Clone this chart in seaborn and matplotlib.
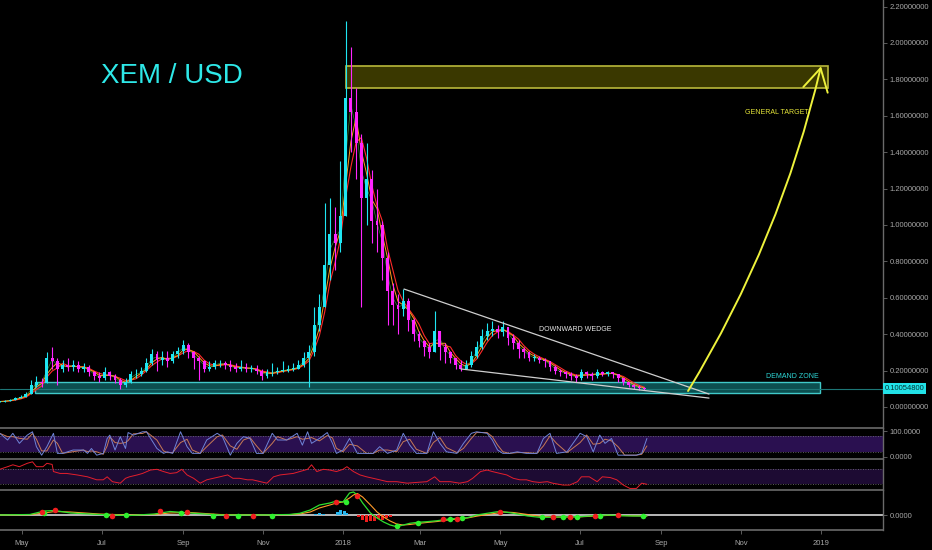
import pandas as pd
import seaborn as sns
import matplotlib.pyplot as plt
from matplotlib.patches import Rectangle, FancyArrowPatch

# ---- price data (4-day candles, XEM/USD) ----
start_date = '2017-04-14'
closes = [0.03, 0.033, 0.04, 0.05, 0.055, 0.07, 0.12, 0.14, 0.13, 0.27,
          0.25, 0.21, 0.23, 0.22, 0.23, 0.21, 0.22, 0.19, 0.17, 0.16,
          0.19, 0.17, 0.15, 0.12, 0.14, 0.18, 0.18, 0.20, 0.24, 0.29,
          0.26, 0.27, 0.25, 0.29, 0.31, 0.34, 0.30, 0.27, 0.25, 0.21,
          0.22, 0.24, 0.24, 0.23, 0.22, 0.21, 0.22, 0.21, 0.21, 0.20,
          0.17, 0.19, 0.19, 0.20, 0.20, 0.21, 0.21, 0.23, 0.27, 0.30,
          0.45, 0.55, 0.78, 0.95, 0.90, 1.05, 1.70, 1.62, 1.45, 1.15,
          1.25, 1.02, 1.00, 0.82, 0.64, 0.56, 0.54, 0.58, 0.48, 0.40,
          0.36, 0.33, 0.30, 0.42, 0.33, 0.30, 0.27, 0.23, 0.21, 0.23,
          0.28, 0.33, 0.39, 0.42, 0.43, 0.41, 0.44, 0.38, 0.35, 0.32,
          0.30, 0.27, 0.27, 0.26, 0.25, 0.22, 0.20, 0.19, 0.18, 0.17,
          0.16, 0.19, 0.18, 0.17, 0.19, 0.18, 0.19, 0.18, 0.16, 0.14,
          0.12, 0.11, 0.105, 0.10]
highs = [0.035, 0.038, 0.045, 0.055, 0.065, 0.08, 0.15, 0.17, 0.16, 0.30,
         0.33, 0.27, 0.26, 0.27, 0.26, 0.25, 0.24, 0.23, 0.20, 0.19,
         0.22, 0.20, 0.18, 0.16, 0.16, 0.20, 0.21, 0.22, 0.27, 0.32,
         0.31, 0.31, 0.31, 0.31, 0.33, 0.37, 0.35, 0.31, 0.28, 0.26,
         0.25, 0.26, 0.26, 0.25, 0.26, 0.24, 0.26, 0.24, 0.23, 0.23,
         0.21, 0.21, 0.24, 0.22, 0.25, 0.23, 0.24, 0.26, 0.30, 0.34,
         0.55, 0.62, 1.12, 1.15, 1.10, 1.35, 2.12, 1.98, 1.75, 1.50,
         1.45, 1.30, 1.20, 1.02, 0.85, 0.68, 0.62, 0.65, 0.60, 0.49,
         0.42, 0.37, 0.35, 0.53, 0.42, 0.35, 0.31, 0.27, 0.26, 0.26,
         0.31, 0.36, 0.43, 0.46, 0.47, 0.45, 0.47, 0.44, 0.40, 0.37,
         0.33, 0.31, 0.29, 0.28, 0.27, 0.25, 0.23, 0.21, 0.20, 0.19,
         0.18, 0.21, 0.20, 0.19, 0.21, 0.20, 0.20, 0.19, 0.18, 0.16,
         0.14, 0.125, 0.12, 0.11]
lows = [0.025, 0.028, 0.032, 0.04, 0.048, 0.055, 0.07, 0.11, 0.11, 0.13,
        0.21, 0.12, 0.19, 0.20, 0.20, 0.19, 0.19, 0.17, 0.15, 0.14,
        0.15, 0.15, 0.13, 0.10, 0.11, 0.13, 0.16, 0.17, 0.19, 0.23,
        0.20, 0.23, 0.22, 0.24, 0.27, 0.29, 0.27, 0.21, 0.15, 0.19,
        0.20, 0.21, 0.22, 0.21, 0.20, 0.19, 0.20, 0.19, 0.19, 0.18,
        0.15, 0.16, 0.17, 0.18, 0.19, 0.19, 0.20, 0.21, 0.22, 0.11,
        0.28, 0.42, 0.55, 0.70, 0.75, 0.85, 1.05, 1.40, 1.25, 0.55,
        1.00, 0.90, 0.85, 0.70, 0.45, 0.45, 0.40, 0.50, 0.42, 0.36,
        0.33, 0.28, 0.27, 0.30, 0.26, 0.24, 0.24, 0.21, 0.20, 0.21,
        0.22, 0.27, 0.32, 0.37, 0.39, 0.38, 0.39, 0.34, 0.32, 0.27,
        0.27, 0.25, 0.25, 0.24, 0.22, 0.20, 0.18, 0.17, 0.16, 0.15,
        0.14, 0.15, 0.16, 0.15, 0.16, 0.17, 0.17, 0.16, 0.14, 0.12,
        0.11, 0.10, 0.095, 0.095]
last_price = 0.100548

# ---- stochastic oscillator (days from 2018-01-01) ----
stoch_days = [-262, -256, -252, -247, -241, -237, -234, -230, -226, -221, -218, -214, -206, -198,
              -195, -192, -188, -183, -180, -178, -174, -170, -166, -164, -160, -153, -150, -142,
              -137, -134, -130, -124, -119, -115, -109, -104, -96, -92, -86, -81, -76, -71, -66,
              -61, -54, -50, -43, -35, -31, -27, -24, -18, -12, -8, -5, 0, 5, 11, 18, 23, 28, 34,
              41, 46, 51, 56, 64, 69, 74, 79, 87, 92, 98, 102, 110, 114, 118, 122, 127, 133, 140,
              148, 153, 158, 163, 171, 181, 186, 191, 196, 200, 205, 210, 215, 224, 228, 232]
stoch_vals = [91, 65, 91, 52, 84, 97, 39, 6, 39, 91, 13, 13, 26, 26,
              13, 32, 6, 13, 71, 84, 26, 78, 32, 94, 84, 97, 97, 32,
              13, 19, 13, 97, 39, 13, 13, 65, 91, 78, 6, 52, 78, 71, 13,
              13, 91, 65, 65, 91, 45, 97, 52, 71, 94, 52, 13, 26, 71, 13, 13, 13, 39, 13,
              26, 91, 45, 13, 13, 97, 52, 19, 13, 52, 91, 97, 91, 65, 26, 13, 13, 19, 13,
              13, 71, 91, 13, 19, 91, 78, 19, 84, 52, 71, 6, 6, 6, 13, 71]

# ---- RSI ----
rsi_days = [-262, -256, -252, -247, -241, -237, -234, -229, -226, -222, -221, -216, -211, -203,
            -195, -188, -183, -180, -176, -170, -166, -163, -157, -153, -147, -142, -137, -132,
            -127, -123, -119, -114, -109, -104, -99, -94, -88, -84, -79, -73, -69, -63, -58,
            -53, -48, -43, -38, -33, -27, -24, -20, -15, -10, -5, 0, 3, 8, 13, 18, 23, 28, 34,
            41, 49, 56, 64, 70, 74, 82, 89, 95, 99, 105, 110, 114, 120, 125, 130, 135, 140, 145,
            150, 156, 160, 168, 173, 179, 182, 188, 194, 198, 204, 209, 214, 219, 224, 228, 232]
rsi_vals = [70, 77, 82, 77, 86, 90, 77, 77, 86, 83, 64, 59, 59, 55,
            50, 42, 42, 50, 37, 33, 46, 50, 55, 59, 68, 70, 64, 59,
            61, 70, 55, 46, 33, 42, 46, 50, 55, 46, 46, 42, 42, 37, 33,
            50, 55, 57, 59, 64, 70, 82, 64, 70, 68, 64, 70, 77, 64, 55, 50, 46, 42, 37,
            37, 33, 35, 37, 50, 37, 37, 33, 37, 46, 64, 68, 64, 59, 55, 46, 42, 42, 37,
            35, 37, 33, 28, 28, 37, 50, 50, 37, 50, 48, 42, 28, 19, 19, 33, 30]

# ---- MACD ----
macd_days = [-262, -239, -228, -220, -208, -186, -163, -144, -132, -117, -94, -63, -41, -33,
             -25, -18, -10, -5, 0, 5, 8, 11, 15, 21, 26, 31, 36, 41, 46, 51, 57, 64, 72, 79,
             87, 95, 102, 110, 118, 122, 130, 141, 150, 160, 171, 181, 191, 202, 212, 221, 232]
macd_line = [0, 0.005, 0.04, 0.045, 0.02, 0.005, -0.005, 0.01, 0.035, 0.02,
             0.0, 0.0, 0.005, 0.017, 0.05, 0.10, 0.12, 0.14, 0.13, 0.22,
             0.23, 0.20, 0.12, 0.02, -0.03, -0.07, -0.10, -0.117, -0.10, -0.083,
             -0.073, -0.067, -0.057, -0.043, -0.033, -0.027, 0.0, 0.017, 0.033, 0.033,
             0.017, -0.01, -0.023, -0.023, -0.017, -0.017, -0.007, 0.0, -0.007, -0.01, -0.01]
signal_line = [0, 0.003, 0.02, 0.035, 0.03, 0.01, 0.0, 0.005, 0.02, 0.025,
               0.005, 0.0, 0.003, 0.01, 0.03, 0.07, 0.10, 0.12, 0.13, 0.17,
               0.20, 0.215, 0.18, 0.10, 0.03, -0.02, -0.06, -0.09, -0.10, -0.095,
               -0.085, -0.075, -0.065, -0.052, -0.04, -0.03, -0.012, 0.005, 0.02, 0.03,
               0.025, 0.005, -0.012, -0.02, -0.02, -0.018, -0.012, -0.004, -0.005, -0.008, -0.01]
hist_days = [-21, -18, -15, -4, -2, 1, 3, 12, 15, 18, 21, 24, 27, 30, 33, 36]
hist_vals = [0.015, 0.025, 0.01, 0.03, 0.05, 0.045, 0.02, -0.02, -0.05, -0.07,
             -0.055, -0.06, -0.04, -0.05, -0.03, -0.015]
cross_up_days = [-228, -181, -166, -124, -99, -80, -54, 2, 41, 57, 82, 91, 152, 168, 179, 196, 229]
cross_up_vals = [0.023, 0, 0, 0.02, -0.01, -0.01, -0.01, 0.13, -0.11, -0.077, -0.035, -0.03,
                 -0.023, -0.017, -0.023, -0.007, -0.01]
cross_dn_days = [-230, -220, -176, -140, -119, -89, -69, -5, 11, 76, 87, 120, 160, 173, 192, 210]
cross_dn_vals = [0.033, 0.05, -0.01, 0.04, 0.033, -0.01, -0.01, 0.13, 0.19, -0.04, -0.04,
                 0.033, -0.023, -0.023, -0.007, 0.0]

# ---- axis labels ----
tick_dates = ['2017-05-01', '2017-07-01', '2017-09-01', '2017-11-01', '2018-01-01', '2018-03-01',
              '2018-05-01', '2018-07-01', '2018-09-01', '2018-11-01', '2019-01-01']
tick_labels = ['May', 'Jul', 'Sep', 'Nov', '2018', 'Mar', 'May', 'Jul', 'Sep', 'Nov', '2019']
price_ticks = [0.0, 0.2, 0.4, 0.6, 0.8, 1.0, 1.2, 1.4, 1.6, 1.8, 2.0, 2.2]

# ---- annotations (days from 2018-01-01, price) ----
target_box = (2.3, 370.0, 1.753, 1.874)
demand_box = (-235.0, 364.0, 0.079, 0.137)
wedge_upper = ([46.6, 279.4], [0.648, 0.071])
wedge_lower = ([90.0, 279.4], [0.209, 0.049])
arrow_from = (263.4, 0.088)
arrow_to = (364.9, 1.872)

# ---- prepare ----
origin = pd.Timestamp('2018-01-01')
dates = pd.date_range(start_date, periods=len(closes), freq='4D')
df = pd.DataFrame({'day': (dates - origin).days, 'close': closes, 'high': highs, 'low': lows})
df['open'] = df['close'].shift(1).fillna(0.028)
df['up'] = df['close'] >= df['open']
df['ma_fast'] = df['close'].rolling(2, min_periods=1).mean()
df['ma_mid'] = df['close'].rolling(3, min_periods=1).mean()
df['ma_slow'] = df['close'].rolling(4, min_periods=1).mean()
tick_days = [(pd.Timestamp(t) - origin).days for t in tick_dates]

stoch = pd.DataFrame({'day': stoch_days, 'k': stoch_vals})
stoch['d'] = stoch['k'].rolling(2, min_periods=1).mean()
rsi = pd.DataFrame({'day': rsi_days, 'rsi': rsi_vals})
macd = pd.DataFrame({'day': macd_days, 'macd': macd_line, 'signal': signal_line})

sns.set_theme(style='dark', rc={'axes.facecolor': 'black', 'figure.facecolor': 'black'})
plt.rcParams['font.family'] = ['Liberation Sans', 'DejaVu Sans']

bg = 'black'
grid_col = '#6a6a6a'
txt_col = '#a8a8a8'
x0, x1 = -261.8, 412.2
W = 883 / 932

fig = plt.figure(figsize=(9.32, 5.5), dpi=100, facecolor=bg)
ax = fig.add_axes([0, 122 / 550, W, 428 / 550])
ax_st = fig.add_axes([0, 91 / 550, W, 31 / 550])
ax_rsi = fig.add_axes([0, 60 / 550, W, 31 / 550])
ax_macd = fig.add_axes([0, 20 / 550, W, 40 / 550])

for a in (ax, ax_st, ax_rsi, ax_macd):
    a.set_facecolor(bg)
    for s in a.spines.values():
        s.set_visible(False)
    a.spines['right'].set_visible(True)
    a.spines['right'].set_color(grid_col)
    a.spines['right'].set_linewidth(1.0)
    a.yaxis.tick_right()
    a.tick_params(axis='y', colors=grid_col, labelcolor=txt_col, labelsize=5.5,
                  length=3, width=0.6, pad=2, right=True, left=False)
for a in (ax_st, ax_rsi, ax_macd):
    a.spines['top'].set_visible(True)
    a.spines['top'].set_color(grid_col)
    a.spines['top'].set_linewidth(1.2)

# ---- main price panel ----
ax.add_patch(Rectangle((target_box[0], target_box[2]), target_box[1] - target_box[0],
                       target_box[3] - target_box[2], facecolor='#3a3800',
                       edgecolor='#b9b83a', lw=1.2, zorder=1))
ax.add_patch(Rectangle((demand_box[0], demand_box[2]), demand_box[1] - demand_box[0],
                       demand_box[3] - demand_box[2], facecolor='#0c4f50',
                       edgecolor='#40c9c9', lw=1.0, zorder=1))
ax.axhline(last_price, color='#1d7676', lw=0.8, zorder=1)

sns.lineplot(data=df, x='day', y='ma_slow', ax=ax, color='#ff2a2a', lw=0.8, zorder=2)
sns.lineplot(data=df, x='day', y='ma_mid', ax=ax, color='#ff9d1c', lw=0.7, zorder=2)
sns.lineplot(data=df, x='day', y='ma_fast', ax=ax, color='#55e055', lw=0.5, alpha=0.6, zorder=2)

up_c, dn_c = '#1fe6f2', '#ff25ff'
colors = [up_c if u else dn_c for u in df['up']]
ax.vlines(df['day'], df['low'], df['high'], colors=colors, lw=0.8, zorder=3)
ax.bar(df['day'], (df['close'] - df['open']).abs().clip(lower=0.004),
       bottom=df[['open', 'close']].min(axis=1), width=2.2, color=colors, lw=0, zorder=3)

ax.plot(*wedge_upper, color='#cfcfcf', lw=0.9, zorder=5)
ax.plot(*wedge_lower, color='#cfcfcf', lw=0.9, zorder=5)
ax.add_patch(FancyArrowPatch(arrow_from, arrow_to, connectionstyle='arc3,rad=0.08',
                             arrowstyle='->,head_length=0.8,head_width=0.45', mutation_scale=20,
                             color='#eef23c', lw=1.4, shrinkA=0, shrinkB=0, zorder=6))

ax.text(-130.5, 1.82, 'XEM / USD', color='#2ee8e8', fontsize=20, ha='center', va='center')
ax.text(331, 1.62, 'GENERAL TARGET', color='#e6e63a', fontsize=5, ha='center', va='center')
ax.text(177, 0.428, 'DOWNWARD WEDGE', color='#e8e8e8', fontsize=5, ha='center', va='center')
ax.text(343, 0.165, 'DEMAND ZONE', color='#2ed8d8', fontsize=5, ha='center', va='center')

ax.text(1.002, last_price, '%.8f' % last_price, transform=ax.get_yaxis_transform(),
        color='#033', fontsize=5.5, ha='left', va='center', zorder=10,
        bbox=dict(boxstyle='square,pad=0.25', fc='#22e2e8', ec='none'))

ax.set_ylim(-0.1154, 2.236)
ax.set_yticks(price_ticks)
ax.set_yticklabels(['%.8f' % v for v in price_ticks])

# ---- stochastic panel ----
ax_st.axhspan(20, 80, color='#2a1050', lw=0, zorder=0)
for lv in (20, 80):
    ax_st.axhline(lv, color='#777777', lw=0.6, ls=(0, (1, 2)), zorder=1)
sns.lineplot(data=stoch, x='day', y='d', ax=ax_st, color='#c87a55', lw=0.7, zorder=2)
sns.lineplot(data=stoch, x='day', y='k', ax=ax_st, color='#6f84d8', lw=0.7, zorder=3)
ax_st.set_ylim(-8.9, 111.7)
ax_st.set_yticks([0, 100])
ax_st.set_yticklabels(['0.0000', '100.0000'])

# ---- RSI panel ----
ax_rsi.axhspan(30, 70, color='#1d0b33', lw=0, zorder=0)
for lv in (30, 70):
    ax_rsi.axhline(lv, color='#777777', lw=0.6, ls=(0, (1, 2)), zorder=1)
sns.lineplot(data=rsi, x='day', y='rsi', ax=ax_rsi, color='#e51e2c', lw=0.7, zorder=2)
ax_rsi.set_ylim(14.8, 97.5)
ax_rsi.set_yticks([])

# ---- MACD panel ----
ax_macd.axhline(0, color='#d8d8d8', lw=1.2, zorder=1)
hist_cols = ['#2ab8f0' if v > 0 else '#ee1c1c' for v in hist_vals]
ax_macd.bar(hist_days, hist_vals, width=2.2, color=hist_cols, lw=0, zorder=2)
sns.lineplot(data=macd, x='day', y='signal', ax=ax_macd, color='#ff9a2a', lw=0.8, zorder=3)
sns.lineplot(data=macd, x='day', y='macd', ax=ax_macd, color='#2ee02e', lw=0.9, zorder=3)
ax_macd.scatter(cross_up_days, cross_up_vals, s=16, color='#2ef02e', lw=0, zorder=4)
ax_macd.scatter(cross_dn_days, cross_dn_vals, s=16, color='#f01e1e', lw=0, zorder=4)
ax_macd.set_ylim(-0.15, 0.25)
ax_macd.set_yticks([0])
ax_macd.set_yticklabels(['0.0000'])
ax_macd.spines['bottom'].set_visible(True)
ax_macd.spines['bottom'].set_color(grid_col)
ax_macd.spines['bottom'].set_linewidth(1.2)

for a in (ax, ax_st, ax_rsi, ax_macd):
    a.set_xlim(x0, x1)
    a.set_xlabel('')
    a.set_ylabel('')
    a.set_xticks([])

ax_macd.set_xticks(tick_days)
ax_macd.set_xticklabels(tick_labels)
ax_macd.tick_params(axis='x', colors=grid_col, labelcolor=txt_col, labelsize=5.5,
                    length=3, width=0.6, pad=4, bottom=True)

fig.savefig('out.png', dpi=100, facecolor=bg)
